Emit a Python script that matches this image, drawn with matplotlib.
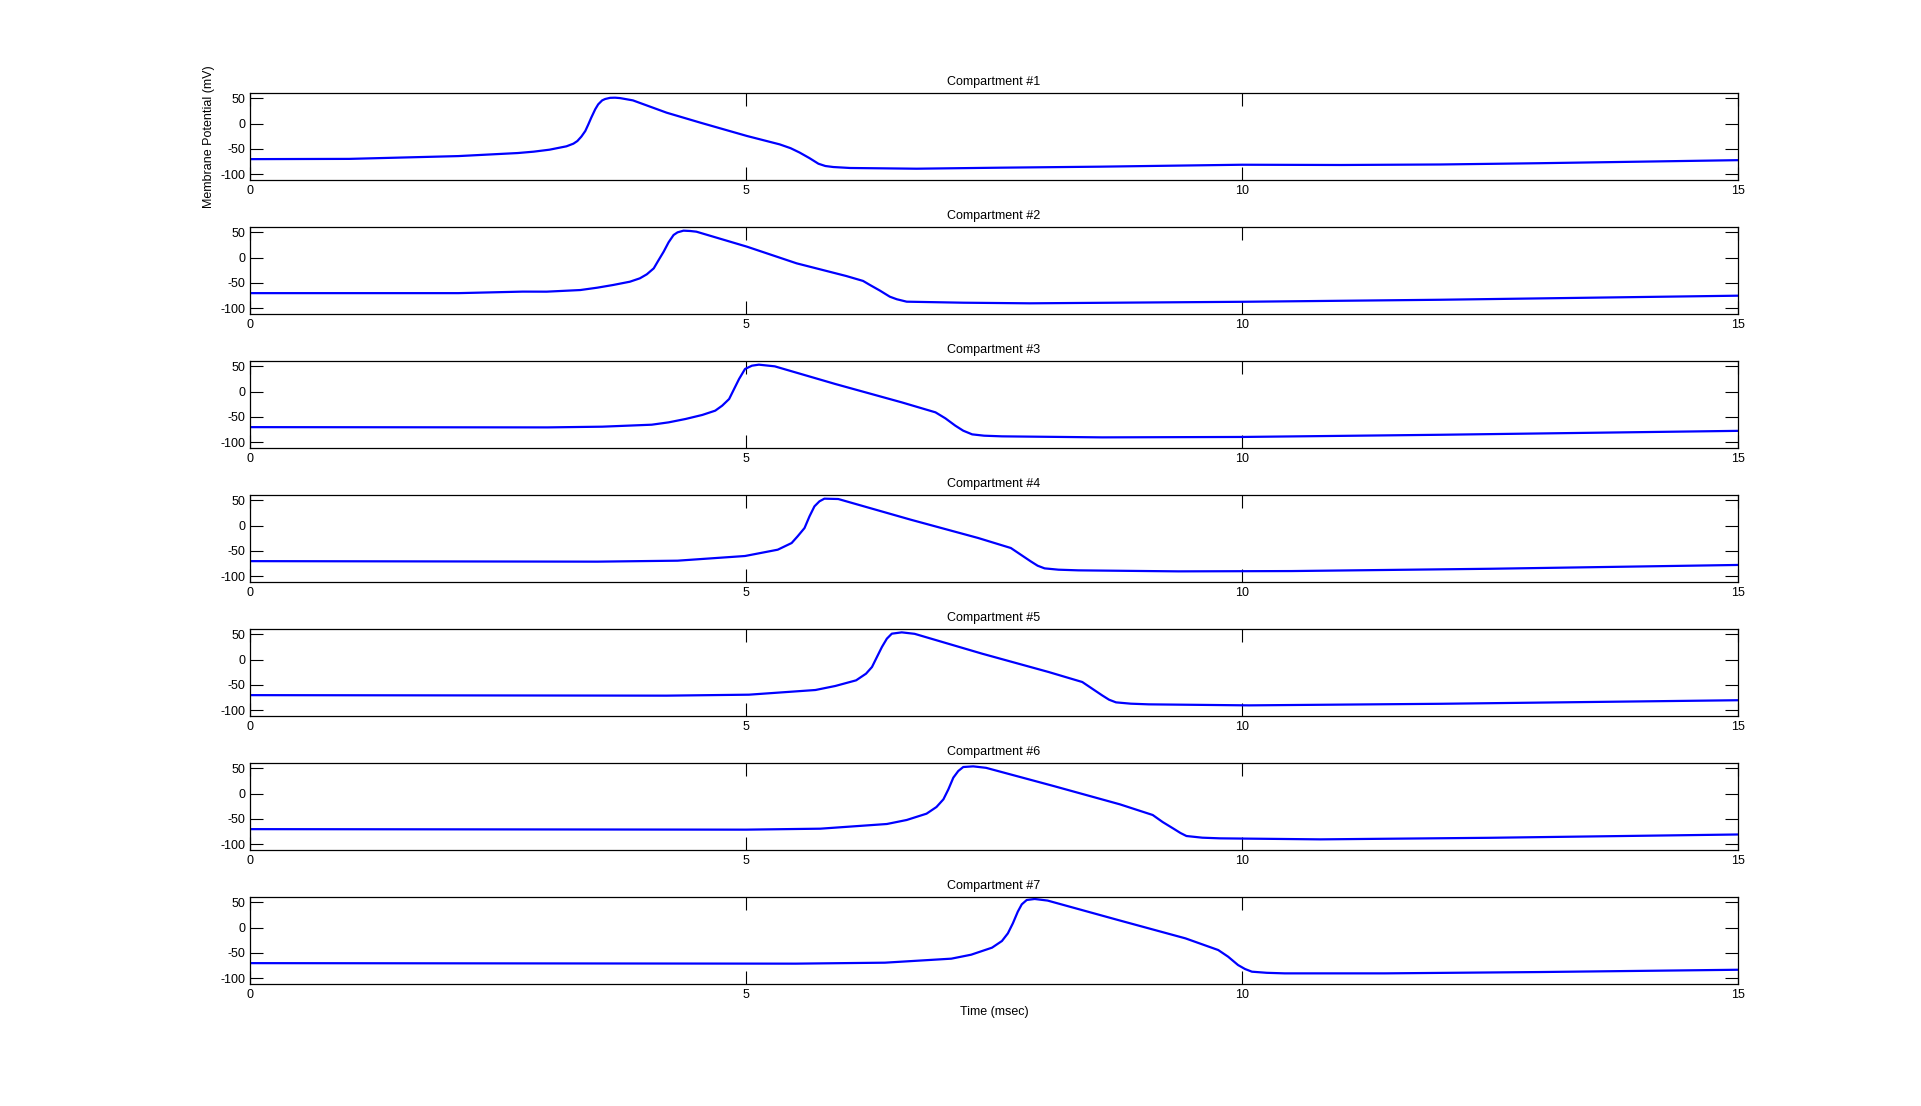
import matplotlib
matplotlib.use('Agg')
import matplotlib.pyplot as plt

plt.rcParams['font.family'] = ['Liberation Sans', 'DejaVu Sans']
plt.rcParams['axes.unicode_minus'] = False

t1 = [0, 1.0, 1.5, 2.1, 2.7, 2.86, 3.02, 3.12, 3.19, 3.26, 3.3, 3.34, 3.38, 3.41, 3.44,
      3.48, 3.51, 3.55, 3.58, 3.63, 3.68, 3.73, 3.86, 4.2, 4.54, 5.01, 5.34, 5.45,
      5.54, 5.64, 5.73, 5.8, 5.88, 6.05, 6.72, 7.56, 8.57, 9.24, 10.0, 11.0, 12.0,
      13.0, 14.0, 15.0]
v1 = [-70, -69.5, -67, -64, -58, -55.3, -51.4, -47.5, -44.8, -39.6, -34.4, -25.8, -14.7,
      -2, 11.5, 28, 37.7, 45.5, 48.2, 50.5, 50.8, 50, 45.5, 21.3, 1.7, -24.5, -41,
      -48.5, -57, -68, -79, -83.5, -85.5, -87.4, -88.8, -86.8, -84.8, -83, -81,
      -81.5, -80.5, -78, -75, -72]

t2 = [0, 2.1, 2.75, 2.99, 3.33, 3.5, 3.66, 3.83, 3.93, 4.0, 4.07, 4.11, 4.17, 4.22,
      4.27, 4.31, 4.37, 4.44, 4.5, 5.01, 5.51, 6.01, 6.18, 6.25, 6.35, 6.45, 6.52,
      6.62, 7.19, 7.86, 10.0, 12.0, 15.0]
v2 = [-70, -70, -67, -67.1, -63.9, -59.3, -54, -47.5, -40.9, -33, -21.3, -8, 11.5, 30,
      44.3, 49.5, 52.8, 52.1, 50.8, 21.3, -11.4, -36.3, -46, -54, -65, -77, -82,
      -86.8, -88.8, -90, -87, -83, -75]

t3 = [0, 3.0, 3.55, 4.05, 4.22, 4.39, 4.56, 4.69, 4.76, 4.83, 4.88, 4.93, 4.99, 5.06,
      5.13, 5.29, 5.90, 6.57, 6.91, 7.01, 7.11, 7.19, 7.28, 7.4, 7.58, 8.59, 10.0,
      12.0, 15.0]
v3 = [-70, -70.5, -69.1, -65.2, -60.6, -54, -46, -37.6, -27.8, -14.7, 5, 24.6, 44.3,
      50.8, 52.8, 49.5, 14.8, -21.3, -40.9, -52.7, -67.1, -77, -84.2, -86.8, -88.1,
      -90.1, -89.3, -85, -77.3]

t4 = [0, 3.5, 4.31, 4.99, 5.32, 5.46, 5.52, 5.59, 5.64, 5.69, 5.74, 5.79, 5.93, 6.66,
      7.34, 7.67, 7.77, 7.87, 7.94, 8.01, 8.15, 8.35, 9.36, 10.5, 12.5, 15.0]
v4 = [-70, -71, -69.1, -59.9, -47.5, -34.4, -21.3, -4.9, 18, 37.7, 47.5, 52.8, 52.1,
      11.5, -24.5, -44.2, -57.3, -70.4, -79, -84.2, -86.8, -88.1, -90.1, -89.5, -85,
      -77.5]

t5 = [0, 4.2, 5.03, 5.70, 5.90, 6.11, 6.21, 6.27, 6.32, 6.37, 6.42, 6.47, 6.57, 6.7,
      7.38, 8.05, 8.39, 8.49, 8.59, 8.66, 8.73, 8.88, 9.06, 10.07, 12.0, 15.0]
v5 = [-70, -71, -69.1, -59.9, -52, -40.9, -27.8, -14.7, 5, 24.6, 41, 50.8, 53.4, 50.5,
      11.5, -24.5, -44.2, -57.3, -70.4, -79, -84.2, -86.8, -88.1, -90.1, -87, -80]

t6 = [0, 5.0, 5.75, 6.42, 6.62, 6.82, 6.92, 6.99, 7.04, 7.09, 7.14, 7.19, 7.29, 7.42,
      8.10, 8.77, 9.10, 9.20, 9.31, 9.38, 9.44, 9.6, 9.78, 10.79, 12.5, 15.0]
v6 = [-70, -71, -69.1, -59.9, -52, -39.6, -26.5, -11.4, 8.2, 31.2, 44.3, 52.1, 53.4,
      50.5, 14.8, -21.3, -42.2, -56, -69.1, -77.6, -83.5, -86.8, -88.1, -90.1, -87,
      -80.5]

t7 = [0, 5.5, 6.4, 7.07, 7.27, 7.48, 7.58, 7.64, 7.69, 7.74, 7.78, 7.83, 7.91, 8.04,
      8.75, 9.43, 9.76, 9.86, 9.96, 10.03, 10.10, 10.25, 10.43, 11.44, 13.0, 15.0]
v7 = [-70, -71, -69.1, -61.2, -53.4, -39.6, -26.5, -11.4, 8.2, 31.2, 45.6, 54.1, 56.1,
      53, 14.8, -21.3, -44.2, -57.3, -73.7, -81.5, -86.8, -89, -90.1, -90.1, -87.5,
      -83]

times = [t1, t2, t3, t4, t5, t6, t7]
volts = [v1, v2, v3, v4, v5, v6, v7]
titles = ['Compartment #%d' % (k + 1) for k in range(7)]
xticks = [0, 5, 10, 15]
yticks = [-100, -50, 0, 50]

fig = plt.figure(figsize=(19.21, 11.06), dpi=100)
W, H = 1921.0, 1106.0

for k in range(7):
    # panel placement in pixels (matlab subplot(7,1,k) look)
    top = 93 + 134 * k
    ax = fig.add_axes([250 / W, 1 - (top + 87) / H, 1488 / W, 87 / H])
    ax.plot(times[k], volts[k], color='#0000ff', linewidth=1.6)
    ax.set_xlim(0, 15)
    ax.set_ylim(-111, 60)
    ax.set_xticks(xticks)
    ax.set_yticks(yticks)
    ax.tick_params(direction='in', top=True, right=True, length=9.5, width=0.8,
                   labelsize=9, pad=3.5)
    for s in ax.spines.values():
        s.set_linewidth(0.9)
    ax.set_title(titles[k], fontsize=9, pad=6)
    if k == 0:
        ax.set_ylabel('Membrane Potential (mV)', fontsize=9)
    if k == 6:
        ax.set_xlabel('Time (msec)', fontsize=9)

fig.savefig('out.png', dpi=100)
